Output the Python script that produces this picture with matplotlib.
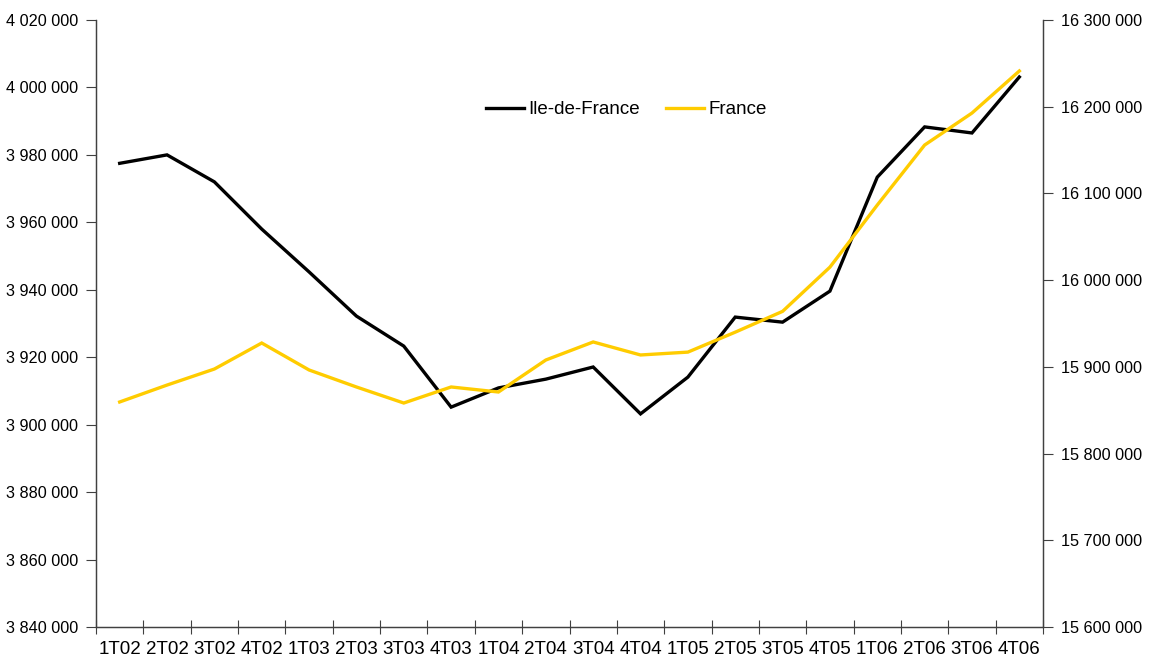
import numpy as np
import matplotlib.pyplot as plt
from matplotlib.ticker import FuncFormatter, MultipleLocator, FixedLocator

plt.rcParams['font.family'] = ['Liberation Sans', 'DejaVu Sans']

quarters = ["1T02", "2T02", "3T02", "4T02", "1T03", "2T03", "3T03", "4T03",
            "1T04", "2T04", "3T04", "4T04", "1T05", "2T05", "3T05", "4T05",
            "1T06", "2T06", "3T06", "4T06"]

# Ile-de-France (left axis)
idf = [3977500, 3980000, 3972000, 3958000, 3945300, 3932200, 3923300, 3905200,
       3910900, 3913500, 3917100, 3903200, 3914100, 3931900, 3930400, 3939600,
       3973400, 3988300, 3986500, 4003100]

# France (right axis)
france = [15859500, 15879000, 15897500, 15927500, 15896400, 15876800, 15858300, 15876800,
          15871000, 15907900, 15928700, 15913700, 15917000, 15940000, 15964000, 16015000,
          16086600, 16155800, 16192700, 16241200]


def fmt(v, pos):
    return "{:,.0f}".format(v).replace(",", " ")


fig = plt.figure(figsize=(11.49, 6.63), dpi=100)
ax = fig.add_axes([96 / 1149, 36 / 663, 947 / 1149, 607 / 663])
ax2 = ax.twinx()

x = np.arange(len(quarters))
l1, = ax.plot(x, idf, color="black", lw=2.4, label="Ile-de-France", solid_joinstyle="miter")
l2, = ax2.plot(x, france, color="#FFCC00", lw=2.4, label="France", solid_joinstyle="miter")

ax.set_xlim(-0.5, len(quarters) - 0.5)
ax.set_ylim(3840000, 4020000)
ax2.set_ylim(15600000, 16300000)
ax.yaxis.set_major_locator(MultipleLocator(20000))
ax2.yaxis.set_major_locator(MultipleLocator(100000))
ax.yaxis.set_major_formatter(FuncFormatter(fmt))
ax2.yaxis.set_major_formatter(FuncFormatter(fmt))

ax.xaxis.set_major_locator(FixedLocator(np.arange(-0.5, len(quarters), 1.0)))
ax.xaxis.set_major_formatter(FuncFormatter(lambda v, p: ""))
ax.xaxis.set_minor_locator(FixedLocator(x))
ax.set_xticklabels(quarters, minor=True)
ax.tick_params(axis="x", which="major", direction="inout", length=10, width=0.8, color="#404040")
ax.tick_params(axis="x", which="minor", length=0, labelsize=13.5, pad=10)
ax.tick_params(axis="y", direction="out", length=7, width=0.8, color="#404040", labelsize=11.7, pad=6)
ax2.tick_params(axis="y", direction="out", length=7, width=0.8, color="#404040", labelsize=11.7, pad=6)

for a in (ax, ax2):
    a.spines["top"].set_visible(False)
    for s in ("left", "right", "bottom"):
        a.spines[s].set_color("#404040")
        a.spines[s].set_linewidth(0.9)

ax.legend([l1, l2], ["Ile-de-France", "France"], loc="center", bbox_to_anchor=(0.56, 0.852),
          ncol=2, frameon=False, fontsize=13.5, handlelength=2.0, handletextpad=0.25,
          columnspacing=1.4)

fig.savefig("out.png", dpi=100)
